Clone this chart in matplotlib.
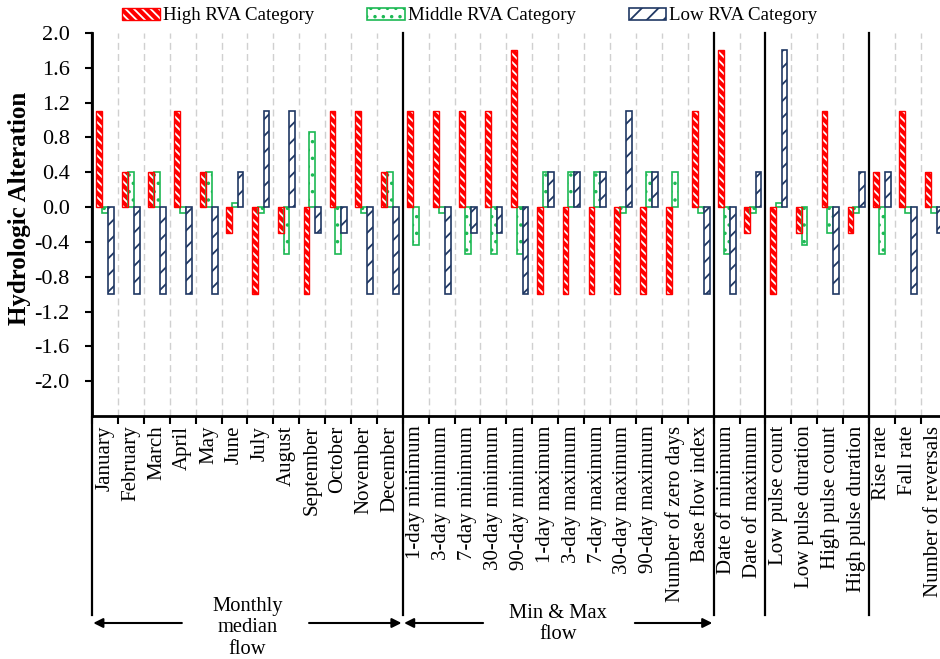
import numpy as np
import matplotlib
matplotlib.use("Agg")
import matplotlib.pyplot as plt
from matplotlib.patches import Patch
from matplotlib.legend_handler import HandlerTuple
import matplotlib.transforms as mtransforms

plt.rcParams['font.family'] = ['Liberation Serif', 'DejaVu Serif']
plt.rcParams['axes.unicode_minus'] = False
plt.rcParams['hatch.linewidth'] = 1.3

categories = [
    "January", "February", "March", "April", "May", "June", "July", "August",
    "September", "October", "November", "December",
    "1-day minimum", "3-day minimum", "7-day minimum", "30-day minimum", "90-day minimum",
    "1-day maximum", "3-day maximum", "7-day maximum", "30-day maximum", "90-day maximum",
    "Number of zero days", "Base flow index",
    "Date of minimum", "Date of maximum",
    "Low pulse count", "Low pulse duration", "High pulse count", "High pulse duration",
    "Rise rate", "Fall rate", "Number of reversals",
]

high_rva = [1.1, 0.4, 0.4, 1.1, 0.4, -0.3, -1.0, -0.3, -1.0, 1.1, 1.1, 0.4,
            1.1, 1.1, 1.1, 1.1, 1.8, -1.0, -1.0, -1.0, -1.0, -1.0, -1.0, 1.1,
            1.8, -0.3,
            -1.0, -0.3, 1.1, -0.3,
            0.4, 1.1, 0.4]
middle_rva = [-0.07, 0.4, 0.4, -0.07, 0.4, 0.05, -0.07, -0.54, 0.86, -0.54, -0.07, 0.4,
              -0.44, -0.07, -0.54, -0.54, -0.54, 0.4, 0.4, 0.4, -0.07, 0.4, 0.4, -0.07,
              -0.54, -0.07,
              0.05, -0.44, -0.3, -0.07,
              -0.54, -0.07, -0.07]
low_rva = [-1.0, -1.0, -1.0, -1.0, -1.0, 0.4, 1.1, 1.1, -0.3, -0.3, -1.0, -1.0,
           np.nan, -1.0, -0.3, -0.3, -1.0, 0.4, 0.4, 0.4, 1.1, 0.4, np.nan, -1.0,
           -1.0, 0.4,
           1.8, np.nan, -1.0, 0.4,
           0.4, -1.0, -0.3]

group_sizes = [12, 12, 2, 4, 3]
group_labels = {0: "Monthly\nmedian\nflow", 1: "Min & Max\nflow"}
y_ticks = [2.0, 1.6, 1.2, 0.8, 0.4, 0.0, -0.4, -0.8, -1.2, -1.6, -2.0]
series_names = ["High RVA Category", "Middle RVA Category", "Low RVA Category"]

RED = "#FF0000"
GREEN = "#1DB954"
BLUE = "#203864"

W, H = 940, 659
fig = plt.figure(figsize=(W / 100, H / 100), dpi=100)
left_px, right_px, top_px, bot_px = 92, 946.7, 33, 416
ax = fig.add_axes([left_px / W, 1 - bot_px / H, (right_px - left_px) / W, (bot_px - top_px) / H])

n = len(categories)
x = np.arange(n)
bw = 0.225
ax.bar(x - 0.215, high_rva, bw, color=RED, edgecolor="white", hatch="\\\\\\\\", linewidth=0, zorder=3)
ax.bar(x - 0.215, high_rva, bw, fill=False, edgecolor=RED, linewidth=1.0, zorder=4)
ax.bar(x + 0.01, middle_rva, bw, color="white", edgecolor=GREEN, hatch="..", linewidth=1.2, zorder=3)
ax.bar(x + 0.235, low_rva, bw, color="white", edgecolor=BLUE, hatch="//", linewidth=1.2, zorder=3)

ax.set_xlim(-0.5, n - 0.5)
ax.set_ylim(-2.4, 2.0)

# separators
bounds = np.cumsum(group_sizes)[:-1] - 0.5
trans = mtransforms.blended_transform_factory(ax.transData, ax.transAxes)
ext = -(615 - bot_px) / (bot_px - top_px)
for b in list(bounds) + [-0.5]:
    ax.plot([b, b], [1, ext], color="black", lw=1.6, transform=trans, clip_on=False, zorder=5)
for b in np.arange(0.5, n - 0.5, 1):
    if b in bounds:
        continue
    ax.axvline(b, color="#D0D0D0", lw=1.0, dashes=(5, 3), zorder=1)

ax.spines['top'].set_visible(False)
ax.spines['right'].set_visible(False)
ax.spines['left'].set_linewidth(2)
ax.spines['bottom'].set_linewidth(2)

ax.set_yticks(y_ticks)
ax.set_yticklabels([f"{v:.1f}" for v in y_ticks], fontsize=16)
ax.tick_params(axis='y', length=5, width=1.5, direction='out', pad=11)

ax.set_xticks(x)
ax.set_xticklabels(categories, rotation=90, fontsize=15)
ax.tick_params(axis='x', which='major', length=0, pad=7)
ax.set_xticks(np.arange(-0.5, n, 1), minor=True)
ax.tick_params(axis='x', which='minor', length=6, width=1.5, direction='out')

fig.text(0.021, 1 - 208 / H, "Hydrologic Alteration", rotation=90, fontsize=18,
         fontweight='bold', ha='center', va='center')

# legend
handles = [
    (Patch(facecolor=RED, edgecolor="white", hatch="\\\\\\\\", linewidth=0),
     Patch(fill=False, edgecolor=RED, linewidth=1.0)),
    Patch(facecolor="white", edgecolor=GREEN, hatch="..", linewidth=1.2),
    Patch(facecolor="white", edgecolor=BLUE, hatch="//", linewidth=1.2),
]
fig.legend(handles, series_names, loc='center', bbox_to_anchor=(0.5, 1 - 16 / H),
           ncol=3, frameon=False, fontsize=13.6, handlelength=2.0, handleheight=0.65,
           handletextpad=0.15, columnspacing=2.8,
           handler_map={tuple: HandlerTuple(ndivide=1, pad=0)})

# group labels and arrows
ftrans = mtransforms.blended_transform_factory(ax.transData, fig.transFigure)
starts = np.concatenate([[0], np.cumsum(group_sizes)]) - 0.5
arrow_y = 1 - 623 / H
arrow_specs = {0: (2.97, 7.88), 1: (14.6, 20.46)}
label_y = {0: 1 - 628 / H, 1: 1 - 624 / H}
for g, text in group_labels.items():
    s, e = starts[g], starts[g + 1]
    c = (s + e) / 2
    fig.text(c, label_y[g], text, transform=ftrans, ha='center', va='center',
             fontsize=14.8, linespacing=1.15)
    a1, a2 = arrow_specs[g]
    ax.annotate("", xy=(s + 0.05, arrow_y), xytext=(a1, arrow_y), xycoords=ftrans,
                textcoords=ftrans, arrowprops=dict(arrowstyle='-|>', color='black', lw=1.5,
                                                    mutation_scale=14, shrinkA=0, shrinkB=0))
    ax.annotate("", xy=(e - 0.05, arrow_y), xytext=(a2, arrow_y), xycoords=ftrans,
                textcoords=ftrans, arrowprops=dict(arrowstyle='-|>', color='black', lw=1.5,
                                                    mutation_scale=14, shrinkA=0, shrinkB=0))

fig.savefig("out.png", dpi=100)
